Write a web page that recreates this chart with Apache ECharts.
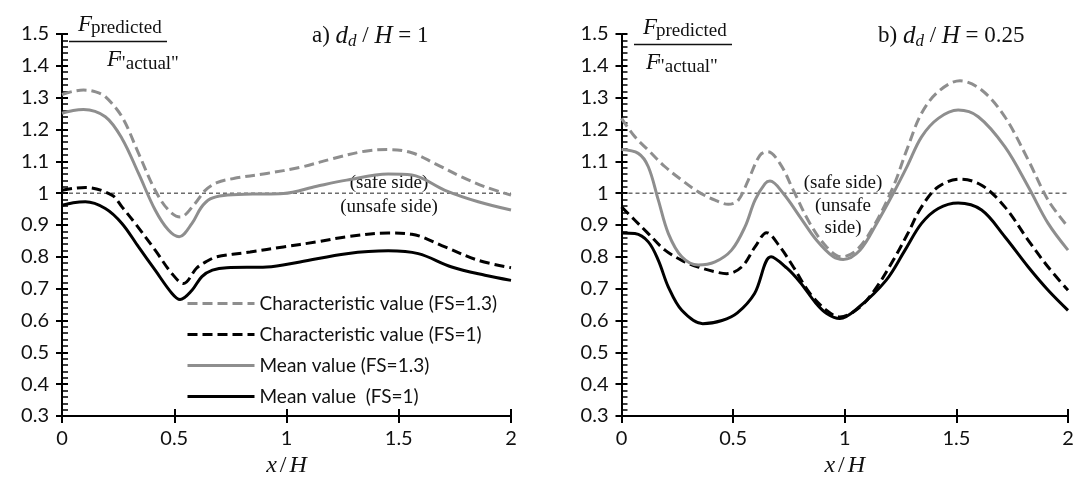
<!DOCTYPE html>
<html>
<head>
<meta charset="utf-8">
<script src="https://cdn.jsdelivr.net/npm/echarts@6/dist/echarts.min.js"></script>
<style>
html,body{margin:0;padding:0;background:#fff;}
#c{width:1074px;height:479px;}
</style>
</head>
<body>
<div id="c"></div>
<script>
// ---------- data ----------
var seriesNames = ['Characteristic value (FS=1.3)', 'Characteristic value (FS=1)', 'Mean value (FS=1.3)', 'Mean value  (FS=1)'];
var xTicks = [0, 0.5, 1, 1.5, 2];
var yTicks = [0.3, 0.4, 0.5, 0.6, 0.7, 0.8, 0.9, 1, 1.1, 1.2, 1.3, 1.4, 1.5];
var panelTitles = [['a)', '1'], ['b)', '0.25']];

// panel a) dd/H = 1
var aCharFS13_x = [0, 0.05, 0.096, 0.15, 0.193, 0.267, 0.341, 0.415, 0.474, 0.526, 0.593, 0.638, 0.69, 0.764, 0.912, 1.06, 1.209, 1.35, 1.453, 1.558, 1.661, 1.78, 1.884, 2.0];
var aCharFS13_y = [1.31, 1.32, 1.324, 1.318, 1.303, 1.24, 1.125, 1.009, 0.947, 0.925, 0.968, 1.009, 1.033, 1.046, 1.062, 1.081, 1.109, 1.132, 1.137, 1.127, 1.093, 1.051, 1.02, 0.994];
var aCharFS1_x = [0, 0.05, 0.104, 0.222, 0.267, 0.326, 0.415, 0.49, 0.541, 0.6, 0.64, 0.69, 0.838, 0.986, 1.135, 1.268, 1.453, 1.558, 1.706, 1.854, 2.0];
var aCharFS1_y = [1.009, 1.015, 1.018, 0.994, 0.957, 0.905, 0.821, 0.747, 0.716, 0.765, 0.784, 0.8, 0.815, 0.831, 0.847, 0.863, 0.875, 0.871, 0.831, 0.789, 0.766];
var aMeanFS13_x = [0, 0.05, 0.096, 0.193, 0.267, 0.341, 0.415, 0.474, 0.522, 0.579, 0.62, 0.66, 0.72, 0.85, 0.986, 1.135, 1.268, 1.453, 1.558, 1.706, 1.854, 2.0];
var aMeanFS13_y = [1.251, 1.26, 1.263, 1.24, 1.172, 1.062, 0.947, 0.884, 0.863, 0.905, 0.955, 0.982, 0.993, 0.997, 0.999, 1.022, 1.041, 1.06, 1.057, 1.009, 0.973, 0.947];
var aMeanFS1_x = [0, 0.05, 0.104, 0.193, 0.267, 0.341, 0.415, 0.49, 0.526, 0.579, 0.623, 0.67, 0.734, 0.912, 1.06, 1.268, 1.453, 1.587, 1.736, 1.884, 2.0];
var aMeanFS1_y = [0.962, 0.97, 0.973, 0.952, 0.905, 0.831, 0.758, 0.685, 0.666, 0.695, 0.738, 0.758, 0.766, 0.768, 0.784, 0.81, 0.819, 0.81, 0.768, 0.742, 0.726];

// panel b) dd/H = 0.25
var bCharFS13_x = [0, 0.06, 0.12, 0.195, 0.27, 0.344, 0.419, 0.478, 0.523, 0.568, 0.62, 0.655, 0.71, 0.77, 0.844, 0.919, 0.986, 1.053, 1.128, 1.217, 1.28, 1.344, 1.419, 1.516, 1.613, 1.717, 1.822, 1.911, 2.0];
var bCharFS13_y = [1.235, 1.177, 1.135, 1.083, 1.041, 1.004, 0.978, 0.965, 0.978, 1.041, 1.119, 1.13, 1.093, 1.009, 0.905, 0.831, 0.8, 0.821, 0.894, 1.02, 1.14, 1.251, 1.319, 1.353, 1.324, 1.24, 1.104, 0.978, 0.894];
var bCharFS1_x = [0, 0.06, 0.12, 0.195, 0.27, 0.344, 0.419, 0.471, 0.538, 0.598, 0.65, 0.71, 0.77, 0.844, 0.919, 0.978, 1.068, 1.143, 1.217, 1.28, 1.344, 1.419, 1.516, 1.613, 1.717, 1.822, 1.911, 2.0];
var bCharFS1_y = [0.957, 0.915, 0.873, 0.821, 0.789, 0.768, 0.753, 0.747, 0.768, 0.831, 0.876, 0.831, 0.768, 0.685, 0.632, 0.611, 0.642, 0.705, 0.789, 0.87, 0.957, 1.02, 1.044, 1.025, 0.957, 0.852, 0.768, 0.695];
var bMeanFS13_x = [0, 0.075, 0.12, 0.165, 0.21, 0.27, 0.344, 0.419, 0.493, 0.553, 0.598, 0.643, 0.665, 0.725, 0.8, 0.874, 0.949, 0.993, 1.068, 1.143, 1.217, 1.28, 1.344, 1.419, 1.508, 1.598, 1.717, 1.822, 1.911, 2.0];
var bMeanFS13_y = [1.137, 1.125, 1.083, 0.978, 0.873, 0.8, 0.774, 0.784, 0.821, 0.894, 0.978, 1.03, 1.038, 0.999, 0.925, 0.852, 0.8, 0.792, 0.821, 0.905, 0.999, 1.085, 1.177, 1.235, 1.261, 1.24, 1.146, 1.02, 0.905, 0.821];
var bMeanFS1_x = [0, 0.06, 0.12, 0.165, 0.21, 0.27, 0.364, 0.45, 0.519, 0.596, 0.67, 0.74, 0.8, 0.87, 0.919, 0.978, 1.06, 1.185, 1.27, 1.344, 1.419, 1.508, 1.613, 1.717, 1.822, 1.911, 2.0];
var bMeanFS1_y = [0.875, 0.873, 0.847, 0.789, 0.705, 0.632, 0.59, 0.6, 0.624, 0.685, 0.8, 0.765, 0.72, 0.655, 0.622, 0.606, 0.64, 0.726, 0.821, 0.905, 0.952, 0.969, 0.947, 0.863, 0.768, 0.695, 0.632];

// reference line (F_pred / F_actual = 1)
var refX = [0, 2];
var refY = [1, 1];

// ---------- build ----------
function pairs(xs, ys) { return xs.map(function (x, i) { return [x, ys[i]]; }); }

var GREY = '#8e8e8e';
var styles = [
  { color: GREY, type: [10, 5] },
  { color: '#000', type: [10, 5] },
  { color: GREY, type: 'solid' },
  { color: '#000', type: 'solid' }
];
var panelData = [
  [[aCharFS13_x, aCharFS13_y], [aCharFS1_x, aCharFS1_y], [aMeanFS13_x, aMeanFS13_y], [aMeanFS1_x, aMeanFS1_y]],
  [[bCharFS13_x, bCharFS13_y], [bCharFS1_x, bCharFS1_y], [bMeanFS13_x, bMeanFS13_y], [bMeanFS1_x, bMeanFS1_y]]
];

var LABEL_FONT = 'Lato';
var SERIF = 'Liberation Serif';

var grids = [
  { left: 62, top: 34, width: 449, height: 382 },
  { left: 621.5, top: 34, width: 446.5, height: 382 }
];

var xAxes = [], yAxes = [], series = [];
grids.forEach(function (g, gi) {
  xAxes.push({
    type: 'value', gridIndex: gi, position: 'bottom', min: xTicks[0], max: xTicks[xTicks.length - 1], interval: 0.5,
    axisLine: { show: true, onZero: false, lineStyle: { color: '#000', width: 2 } },
    axisTick: { show: true, inside: false, length: 7, lineStyle: { color: '#000', width: 2 } },
    axisLabel: { color: '#111', fontFamily: LABEL_FONT, fontSize: 20, margin: 13 },
    splitLine: { show: false },
    name: '{i|x}{n|/}{i|H}', nameLocation: 'middle', nameGap: 38,
    nameTextStyle: { rich: {
      i: { fontFamily: SERIF, fontStyle: 'italic', fontSize: 24, color: '#111' },
      n: { fontFamily: SERIF, fontSize: 24, color: '#111', padding: [0, 3, 0, 3] }
    } }
  });
  xAxes.push({
    type: 'value', gridIndex: gi, position: 'bottom', offset: 0, min: xTicks[0], max: xTicks[xTicks.length - 1], interval: 0.5,
    axisLine: { show: false, onZero: false },
    axisTick: { show: true, inside: true, length: 7, lineStyle: { color: '#000', width: 2 } },
    axisLabel: { show: false }, splitLine: { show: false }
  });
  yAxes.push({
    type: 'value', gridIndex: gi, position: 'left', min: yTicks[0], max: yTicks[yTicks.length - 1], interval: 0.1,
    axisLine: { show: true, onZero: false, lineStyle: { color: '#000', width: 2 } },
    axisTick: { show: true, inside: true, length: 6, lineStyle: { color: '#000', width: 2 } },
    minorTick: { show: true, splitNumber: 5, length: 6, lineStyle: { color: '#000', width: 1.5 } },
    axisLabel: { color: '#111', fontFamily: LABEL_FONT, fontSize: 20, margin: 13 },
    splitLine: { show: false }, minorSplitLine: { show: false }
  });
  yAxes.push({
    type: 'value', gridIndex: gi, position: 'left', offset: 0, min: yTicks[0], max: yTicks[yTicks.length - 1], interval: 0.1,
    axisLine: { show: false, onZero: false },
    axisTick: { show: true, inside: false, length: 6, lineStyle: { color: '#000', width: 2 } },
    axisLabel: { show: false }, splitLine: { show: false }
  });

  series.push({
    name: 'ref', type: 'line', xAxisIndex: gi * 2, yAxisIndex: gi * 2, data: pairs(refX, refY),
    symbol: 'none', silent: true, z: 1,
    lineStyle: { color: '#222', width: 1, type: [4, 3] }
  });
  panelData[gi].forEach(function (d, si) {
    series.push({
      name: seriesNames[si], type: 'line', xAxisIndex: gi * 2, yAxisIndex: gi * 2,
      data: pairs(d[0], d[1]), symbol: 'none', showSymbol: false, smooth: 0.35, z: 3,
      lineStyle: { color: styles[si].color, width: 3, type: styles[si].type },
      itemStyle: { color: styles[si].color }
    });
  });
});

function serifText(x, y, text, size, italic, align) {
  return { type: 'text', x: x, y: y, silent: true, style: {
    text: text, fontFamily: SERIF, fontSize: size, fontStyle: italic ? 'italic' : 'normal',
    fill: '#111', align: align || 'left', verticalAlign: 'middle' } };
}
function titleText(x, y, t) {
  return { type: 'text', x: x, y: y, silent: true, style: {
    text: '{n|' + t[0] + ' }{i|d}{s|d}{n| / }{i|H}{n| = ' + t[1] + '}',
    verticalAlign: 'middle',
    rich: {
      n: { fontFamily: SERIF, fontSize: 23, fill: '#111' },
      i: { fontFamily: SERIF, fontSize: 25, fontStyle: 'italic', fill: '#111' },
      s: { fontFamily: SERIF, fontSize: 17, fontStyle: 'italic', fill: '#111', padding: [11, 0, 0, 0] }
    } } };
}
function fraction(x0, dy, botX) {
  return [
    serifText(x0 + 9, 25 + dy, 'F', 23, true),
    serifText(x0 + 22, 28 + dy, 'predicted', 19, false),
    { type: 'line', silent: true, shape: { x1: x0, y1: 41.5 + dy, x2: x0 + 98, y2: 41.5 + dy }, style: { stroke: '#111', lineWidth: 1.3 } },
    serifText(x0 + botX, 60 + dy, 'F', 23, true),
    serifText(x0 + botX + 11, 64 + dy, '"actual"', 19, false)
  ];
}

var graphics = [].concat(
  fraction(69, 0, 38), fraction(634, 3, 12),
  [ titleText(312, 36, panelTitles[0]), titleText(878, 36, panelTitles[1]),
    serifText(389, 183, '(safe side)', 19, false, 'center'),
    serifText(389, 207, '(unsafe side)', 19, false, 'center'),
    serifText(843, 183, '(safe side)', 19, false, 'center'),
    serifText(843, 206, '(unsafe', 19, false, 'center'),
    serifText(843, 228, 'side)', 19, false, 'center') ]
);

var chart = echarts.init(document.getElementById('c'), null, { renderer: 'canvas' });
chart.setOption({
  animation: false,
  backgroundColor: '#fff',
  grid: grids.map(function (g) { return Object.assign({ containLabel: false, outerBoundsMode: 'none' }, g); }),
  xAxis: xAxes,
  yAxis: yAxes,
  legend: {
    data: seriesNames, orient: 'vertical', left: 181, top: 289,
    itemWidth: 67, itemHeight: 20, itemGap: 12, selectedMode: false,
    itemStyle: { opacity: 0 },
    lineStyle: { width: 3 },
    textStyle: { fontFamily: LABEL_FONT, fontSize: 19, color: '#111' }
  },
  series: series,
  graphic: graphics
});
</script>
</body>
</html>
